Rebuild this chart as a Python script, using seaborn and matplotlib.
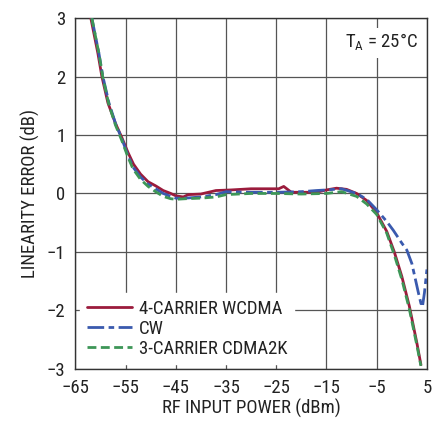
import numpy as np
import pandas as pd
import matplotlib
matplotlib.use('Agg')
import matplotlib.pyplot as plt
import seaborn as sns

# curve data
wcdma_x = [-61.9, -60.5, -59.7, -58.5, -57.0, -55.7, -54.5, -53.4, -52.0, -50.5, -49.0,
           -47.5, -46.0, -45.0, -43.5, -42.5, -40.0, -37.0, -34.0, -30.0, -27.0, -24.5,
           -23.5, -22.0, -20.0, -17.0, -15.0, -13.0, -11.0, -9.0, -7.0, -5.0, -3.0,
           -1.5, 0.0, 1.5, 3.0, 3.8]
wcdma_y = [3.0, 2.4, 2.0, 1.55, 1.2, 0.95, 0.7, 0.5, 0.33, 0.2, 0.13,
           0.05, 0.0, -0.04, -0.06, -0.02, -0.01, 0.05, 0.06, 0.08, 0.08, 0.08,
           0.12, 0.02, 0.02, 0.02, 0.06, 0.09, 0.07, 0.0, -0.12, -0.33, -0.65,
           -1.0, -1.42, -1.93, -2.56, -2.93]

cw_x = [-61.7, -60.3, -59.5, -58.3, -57.0, -55.8, -54.5, -53.5, -52.0, -50.5, -49.0,
        -47.5, -46.0, -45.0, -43.0, -40.0, -37.0, -35.0, -30.0, -25.0, -20.0, -17.0,
        -15.0, -12.0, -9.0, -7.0, -5.0, -3.0, -1.7, 0.0, 1.0, 2.0, 2.6, 3.3, 3.8,
        4.1, 4.5, 5.0]
cw_y = [3.0, 2.4, 2.0, 1.55, 1.2, 0.95, 0.65, 0.45, 0.28, 0.16, 0.08,
        0.0, -0.05, -0.08, -0.08, -0.06, -0.02, 0.03, 0.02, 0.02, 0.03, 0.05,
        0.06, 0.08, 0.0, -0.1, -0.28, -0.48, -0.63, -0.85, -0.97, -1.2, -1.43,
        -1.7, -1.88, -1.94, -1.7, -1.3]

cdma_x = [-61.7, -60.3, -59.5, -58.3, -57.0, -55.8, -54.5, -53.5, -52.0, -50.5, -49.0,
          -47.5, -46.0, -45.0, -43.0, -40.0, -37.0, -35.0, -30.0, -25.0, -20.0, -15.0,
          -12.0, -9.0, -7.0, -5.0, -3.0, -1.5, 0.0, 1.5, 3.0, 3.8]
cdma_y = [3.0, 2.4, 1.98, 1.52, 1.17, 0.92, 0.62, 0.42, 0.24, 0.12, 0.03,
          -0.05, -0.09, -0.1, -0.09, -0.08, -0.06, -0.02, 0.0, 0.0, -0.01, 0.0,
          0.03, -0.05, -0.18, -0.36, -0.68, -1.05, -1.47, -1.98, -2.6, -2.95]

series = ['4-CARRIER WCDMA', 'CW', '3-CARRIER CDMA2K']
colors = ['#9b1b3c', '#3a5aae', '#3d9657']
dashes = [None, (6, 1.6, 2, 1.6), (3.2, 1.6)]

sns.set_style('white')
plt.rcParams['font.family'] = ['Roboto Condensed', 'Archivo Narrow', 'DejaVu Sans']
FS = 13.5

fig = plt.figure(figsize=(4.48, 4.21), dpi=100)
ax = fig.add_axes([0.168, 0.124, 0.785, 0.833])

data = [(wcdma_x, wcdma_y), (cw_x, cw_y), (cdma_x, cdma_y)]
for (xs, ys), name, c, d in zip(data, series, colors, dashes):
    df = pd.DataFrame({'x': xs, 'y': ys})
    sns.lineplot(data=df, x='x', y='y', ax=ax, color=c, lw=2.0,
                 label=name, zorder=3)
    if d is not None:
        ax.lines[-1].set_dashes(d)

ax.set_xlim(-65, 5)
ax.set_ylim(-3, 3)
ax.set_xticks(np.arange(-65, 6, 10))
ax.set_xticklabels(['\u221265', '\u221255', '\u221245', '\u221235', '\u221225',
                    '\u221215', '\u22125', '5'])
ax.set_yticks(np.arange(-3, 4, 1))
ax.set_yticklabels(['\u22123', '\u22122', '\u22121', '0', '1', '2', '3'])
ax.tick_params(labelsize=FS, length=0, colors='#222222')
ax.tick_params(axis='x', pad=7)
ax.tick_params(axis='y', pad=7)
ax.grid(True, color='#555555', lw=0.9)
for s in ax.spines.values():
    s.set_color('#333333')
    s.set_linewidth(1.0)

ax.set_xlabel('RF INPUT POWER (dBm)', fontsize=FS, color='#222222', labelpad=2)
ax.set_ylabel('LINEARITY ERROR (dB)', fontsize=FS, color='#222222', labelpad=5)

leg = ax.legend(loc='lower left', bbox_to_anchor=(0.0, 0.0), fontsize=FS,
                frameon=True, fancybox=False, framealpha=1, edgecolor='white',
                handlelength=2.4, handletextpad=0.4, labelspacing=0.1,
                borderpad=0.35, borderaxespad=0.25)
leg.set_zorder(5)
for t in leg.get_texts():
    t.set_color('#222222')

ax.text(0.975, 0.96, r'T$_\mathregular{A}$ = 25°C', transform=ax.transAxes,
        ha='right', va='top', fontsize=FS, color='#222222',
        bbox=dict(facecolor='white', edgecolor='none', pad=3), zorder=6)

fig.savefig('out.png', dpi=100)
